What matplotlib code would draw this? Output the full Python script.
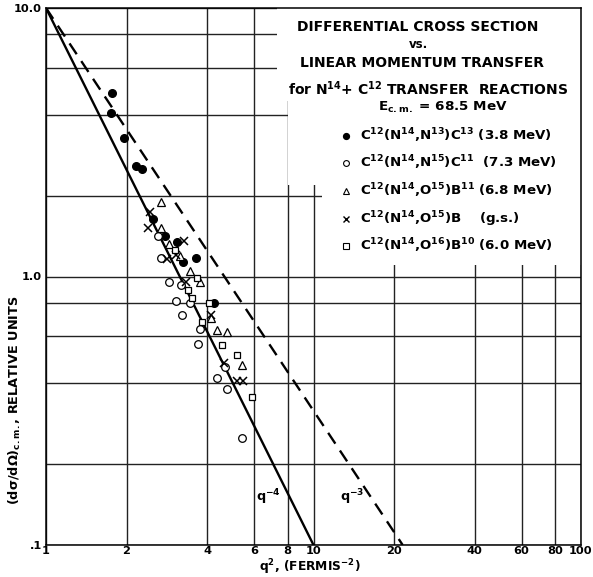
import numpy as np
import matplotlib
matplotlib.use("Agg")
import matplotlib.pyplot as plt
from matplotlib.patches import Polygon
from matplotlib.lines import Line2D

plt.rcParams['font.family'] = ['DejaVu Sans']
plt.rcParams['font.weight'] = 'bold'
plt.rcParams['mathtext.fontset'] = 'dejavusans'
plt.rcParams['mathtext.default'] = 'bf'

# ---- data: q^2 (fermi^-2) and relative differential cross section ----
n13_q2 = [1.77, 1.75, 1.96, 2.17, 2.29, 2.52, 2.79, 3.10, 3.26, 3.65, 4.26]
n13_y = [4.83, 4.07, 3.29, 2.59, 2.52, 1.64, 1.41, 1.35, 1.13, 1.17, 0.80]

n15_q2 = [2.63, 2.70, 2.89, 3.20, 3.07, 3.46, 3.23, 3.77, 3.71, 4.68, 4.37, 4.76, 5.42]
n15_y = [1.41, 1.17, 0.95, 0.93, 0.81, 0.80, 0.72, 0.64, 0.56, 0.46, 0.42, 0.38, 0.25]

o15_b11_q2 = [2.70, 2.70, 2.89, 3.18, 3.46, 3.77, 4.15, 4.37, 4.76, 5.42]
o15_b11_y = [1.90, 1.52, 1.32, 1.19, 1.05, 0.95, 0.70, 0.63, 0.62, 0.47]

o15_gs_q2 = [2.45, 2.41, 3.29, 2.84, 3.07, 3.35, 4.15, 4.64, 5.19, 5.47]
o15_gs_y = [1.74, 1.52, 1.36, 1.16, 1.20, 0.95, 0.72, 0.475, 0.407, 0.407]

o16_q2 = [3.04, 3.68, 3.40, 3.52, 4.08, 3.84, 4.56, 5.19, 5.91]
o16_y = [1.26, 0.99, 0.89, 0.835, 0.80, 0.675, 0.554, 0.508, 0.355]

# reference slopes q^-4 and q^-3 (q^2 on the axis), normalised to 10 at q^2 = 1
slope_q4_q2 = [1.0, 10.0]
slope_q3_q2 = [1.0, 10 ** (2 / 1.5)]

x_ticks = [1, 2, 4, 6, 8, 10, 20, 40, 60, 80, 100]
x_ticklabels = ['1', '2', '4', '6', '8', '10', '20', '40', '60', '80', '100']
y_ticks = [0.1, 1.0, 10.0]
y_ticklabels = ['.1', '1.0', '10.0']
y_grid_minor = [0.2, 0.4, 0.6, 0.8, 2, 4, 6, 8]

W, H = 593, 577
fig = plt.figure(figsize=(W / 100, H / 100), dpi=100)
ax = fig.add_axes([46 / W, 1 - 545 / H, (581 - 46) / W, (545 - 8) / H])
ax.set_xscale('log')
ax.set_yscale('log')
ax.set_xlim(1, 100)
ax.set_ylim(0.1, 10)

ax.set_xticks(x_ticks)
ax.set_xticklabels(x_ticklabels)
ax.xaxis.set_minor_locator(matplotlib.ticker.NullLocator())
ax.set_yticks(y_ticks)
ax.set_yticklabels(y_ticklabels)
ax.set_yticks(y_grid_minor, minor=True)
ax.yaxis.set_minor_formatter(matplotlib.ticker.NullFormatter())
ax.tick_params(which='both', length=0, labelsize=8.2)
ax.tick_params(axis='x', pad=0.5)
ax.tick_params(axis='y', pad=3)
ax.set_axisbelow(True)
ax.grid(True, which='major', color='#222222', lw=1.0)
ax.grid(True, which='minor', axis='y', color='#222222', lw=1.0)
for s in ax.spines.values():
    s.set_linewidth(1.1)

# blank area behind the title block
blank = Polygon([(7.3, 10), (7.3, 4.5), (8.0, 4.5), (8.0, 2.2), (10.8, 2.2),
                 (10.8, 1.1), (100, 1.1), (100, 10)], closed=True,
                facecolor='white', edgecolor='none', zorder=1)
ax.add_patch(blank)

q2a = np.array(slope_q4_q2)
ax.plot(q2a, 10 * q2a ** -2.0, color='black', lw=1.7, zorder=3)
q2b = np.array(slope_q3_q2)
ax.plot(q2b, 10 * q2b ** -1.5, color='black', lw=1.7, ls=(0, (5.5, 3.5)), zorder=3)
ax.text(6.1, 0.151, r'q$^{-4}$', fontsize=9.3, va='center', ha='left')
ax.text(12.6, 0.151, r'q$^{-3}$', fontsize=9.3, va='center', ha='left')

ms = 5.5
ax.plot(n13_q2, n13_y, 'o', color='black', ms=ms, zorder=4)
ax.plot(n15_q2, n15_y, 'o', mfc='white', mec='black', mew=0.9, ms=ms, zorder=4)
ax.plot(o15_b11_q2, o15_b11_y, '^', mfc='white', mec='black', mew=0.9, ms=ms + 0.5, zorder=4)
ax.plot(o15_gs_q2, o15_gs_y, 'x', color='black', mew=1.1, ms=ms - 0.3, zorder=4)
ax.plot(o16_q2, o16_y, 's', mfc='white', mec='black', mew=0.9, ms=ms - 0.5, zorder=4)


def fx(px):
    return px / W


def fy(py):
    return 1 - py / H


title_fs = 10
fig.text(fx(418), fy(27), 'DIFFERENTIAL CROSS SECTION', fontsize=title_fs, ha='center', va='center')
fig.text(fx(418), fy(45), 'vs.', fontsize=title_fs - 1.5, ha='center', va='center')
fig.text(fx(422), fy(63), 'LINEAR MOMENTUM TRANSFER', fontsize=title_fs, ha='center', va='center')
fig.text(fx(428), fy(89), r'for N$^{14}$+ C$^{12}$ TRANSFER  REACTIONS', fontsize=title_fs, ha='center', va='center')
fig.text(fx(443), fy(107), r'E$_{c.m.}$ = 68.5 MeV', fontsize=title_fs - 0.3, ha='center', va='center')

legend_rows = [
    (dict(marker='o', color='black', ms=4.2), r'C$^{12}$(N$^{14}$,N$^{13}$)C$^{13}$ (3.8 MeV)'),
    (dict(marker='o', mfc='white', mec='black', ms=4.2, mew=0.8), r'C$^{12}$(N$^{14}$,N$^{15}$)C$^{11}$  (7.3 MeV)'),
    (dict(marker='^', mfc='white', mec='black', ms=4.8, mew=0.8), r'C$^{12}$(N$^{14}$,O$^{15}$)B$^{11}$ (6.8 MeV)'),
    (dict(marker='x', color='black', ms=4.2, mew=1.0), r'C$^{12}$(N$^{14}$,O$^{15}$)B    (g.s.)'),
    (dict(marker='s', mfc='white', mec='black', ms=4.0, mew=0.8), r'C$^{12}$(N$^{14}$,O$^{16}$)B$^{10}$ (6.0 MeV)'),
]
row_y = [136, 163, 191, 219, 246]
for (mk, label), py in zip(legend_rows, row_y):
    fig.add_artist(Line2D([fx(346)], [fy(py)], ls='none', transform=fig.transFigure, **mk))
    fig.text(fx(360), fy(py), label, fontsize=9.6, ha='left', va='center')

fig.text(fx(310), fy(571), r'q$^{2}$, (FERMIS$^{-2}$)', fontsize=8.8, ha='center', va='baseline')
fig.text(fx(15), fy(400), r'$\left(d\sigma/d\Omega\right)_{c.m.}$, RELATIVE UNITS', fontsize=9.3,
         ha='center', va='center', rotation=90)

fig.savefig('out.png', dpi=100, facecolor='white')
